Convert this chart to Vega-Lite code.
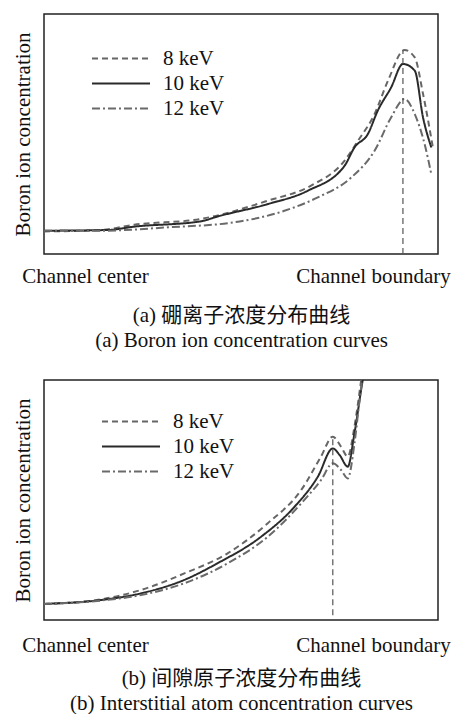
{
  "$schema": "https://vega.github.io/schema/vega-lite/v6.json",
  "padding": {"left": 11, "top": 13, "right": 0, "bottom": 0},
  "background": "white",
  "spacing": 28,
  "config": {
    "view": {"stroke": "#222", "strokeWidth": 1.5},
    "font": "Liberation Serif, Times New Roman, serif",
    "axis": {"grid": false, "ticks": false, "tickSize": 0, "domain": false, "labelFont": "Liberation Serif, Times New Roman, serif", "labelFontSize": 21, "labelColor": "#111", "titleFont": "Liberation Serif, Noto Sans CJK SC, serif", "titleFontSize": 21, "titleFontWeight": "normal", "titleColor": "#111"},
    "legend": {"symbolType": "stroke", "symbolSize": 3364, "symbolStrokeWidth": 2, "labelFont": "Liberation Serif, Times New Roman, serif", "labelFontSize": 21, "labelColor": "#111", "clipHeight": 25, "rowPadding": 0, "padding": 0, "labelOffset": 12}
  },
  "resolve": {"scale": {"color": "independent", "strokeDash": "independent"}, "legend": {"color": "independent", "strokeDash": "independent"}},
  "datasets": {
    "a": [
      {"series": "8 keV", "x": 0, "y": 9.4}, {"series": "8 keV", "x": 14.4, "y": 10}, {"series": "8 keV", "x": 22.9, "y": 12.2}, {"series": "8 keV", "x": 39.8, "y": 14.6}, {"series": "8 keV", "x": 56.8, "y": 22.2}, {"series": "8 keV", "x": 67.8, "y": 28.5}, {"series": "8 keV", "x": 76.3, "y": 38.9}, {"series": "8 keV", "x": 79.7, "y": 47.2}, {"series": "8 keV", "x": 83.9, "y": 58.3}, {"series": "8 keV", "x": 87.3, "y": 72.2}, {"series": "8 keV", "x": 91.5, "y": 85}, {"series": "8 keV", "x": 94.1, "y": 81.9}, {"series": "8 keV", "x": 96.2, "y": 66.7}, {"series": "8 keV", "x": 98.7, "y": 44.4},
      {"series": "10 keV", "x": 0, "y": 9.7}, {"series": "10 keV", "x": 16.1, "y": 10}, {"series": "10 keV", "x": 22.9, "y": 11.4}, {"series": "10 keV", "x": 39.8, "y": 13.6}, {"series": "10 keV", "x": 44, "y": 15.6}, {"series": "10 keV", "x": 56.8, "y": 20.8}, {"series": "10 keV", "x": 67, "y": 26.4}, {"series": "10 keV", "x": 76.3, "y": 36.8}, {"series": "10 keV", "x": 78.8, "y": 44.4}, {"series": "10 keV", "x": 82.2, "y": 50}, {"series": "10 keV", "x": 84.7, "y": 59.7}, {"series": "10 keV", "x": 88.1, "y": 69.4}, {"series": "10 keV", "x": 91.1, "y": 79.2}, {"series": "10 keV", "x": 94.1, "y": 76.4}, {"series": "10 keV", "x": 96.2, "y": 56.9}, {"series": "10 keV", "x": 98.3, "y": 44.4},
      {"series": "12 keV", "x": 0, "y": 9.7}, {"series": "12 keV", "x": 14.4, "y": 9.7}, {"series": "12 keV", "x": 31.4, "y": 11.1}, {"series": "12 keV", "x": 48.3, "y": 13.2}, {"series": "12 keV", "x": 61, "y": 18}, {"series": "12 keV", "x": 69.5, "y": 23.6}, {"series": "12 keV", "x": 78, "y": 31.9}, {"series": "12 keV", "x": 83.9, "y": 43}, {"series": "12 keV", "x": 88.1, "y": 56.9}, {"series": "12 keV", "x": 91.5, "y": 64.6}, {"series": "12 keV", "x": 94.1, "y": 58.3}, {"series": "12 keV", "x": 96.6, "y": 45.8}, {"series": "12 keV", "x": 98.3, "y": 33.3}
    ],
    "b": [
      {"series": "8 keV", "x": 0, "y": 6.7}, {"series": "8 keV", "x": 14.4, "y": 8.6}, {"series": "8 keV", "x": 24.6, "y": 12.5}, {"series": "8 keV", "x": 35.6, "y": 19.4}, {"series": "8 keV", "x": 46.6, "y": 27.8}, {"series": "8 keV", "x": 56.8, "y": 40.3}, {"series": "8 keV", "x": 65.3, "y": 54.2}, {"series": "8 keV", "x": 70.3, "y": 68.1}, {"series": "8 keV", "x": 73.3, "y": 76.4}, {"series": "8 keV", "x": 75.4, "y": 72.2}, {"series": "8 keV", "x": 77.1, "y": 68.1}, {"series": "8 keV", "x": 78.8, "y": 80.6}, {"series": "8 keV", "x": 80.5, "y": 100}, {"series": "8 keV", "x": 81.4, "y": 111},
      {"series": "10 keV", "x": 0, "y": 6.7}, {"series": "10 keV", "x": 14.4, "y": 8.3}, {"series": "10 keV", "x": 24.6, "y": 11.1}, {"series": "10 keV", "x": 35.6, "y": 16.7}, {"series": "10 keV", "x": 44, "y": 23.6}, {"series": "10 keV", "x": 55.1, "y": 34.7}, {"series": "10 keV", "x": 63.6, "y": 47.2}, {"series": "10 keV", "x": 69.5, "y": 59.7}, {"series": "10 keV", "x": 73.3, "y": 71.5}, {"series": "10 keV", "x": 75, "y": 68.8}, {"series": "10 keV", "x": 77.1, "y": 63.9}, {"series": "10 keV", "x": 78.8, "y": 77.8}, {"series": "10 keV", "x": 80.9, "y": 100}, {"series": "10 keV", "x": 82.2, "y": 111},
      {"series": "12 keV", "x": 0, "y": 6.7}, {"series": "12 keV", "x": 14.4, "y": 8.1}, {"series": "12 keV", "x": 24.6, "y": 10.4}, {"series": "12 keV", "x": 35.6, "y": 15.3}, {"series": "12 keV", "x": 46.6, "y": 23.6}, {"series": "12 keV", "x": 56.8, "y": 34.7}, {"series": "12 keV", "x": 65.3, "y": 48.6}, {"series": "12 keV", "x": 70.3, "y": 58.3}, {"series": "12 keV", "x": 73.3, "y": 65.3}, {"series": "12 keV", "x": 75.4, "y": 62.5}, {"series": "12 keV", "x": 77.1, "y": 59}, {"series": "12 keV", "x": 78.8, "y": 73.6}, {"series": "12 keV", "x": 80.1, "y": 91.7}, {"series": "12 keV", "x": 81.4, "y": 108}
    ],
    "ra": [{"x": 91.1, "y": 0, "y2": 85}],
    "rb": [{"x": 73.3, "y": 2, "y2": 76}]
  },
  "vconcat": [
    {
      "width": 394, "height": 240,
      "layer": [
        {
          "data": {"name": "a"},
          "mark": {"type": "line", "strokeWidth": 2, "clip": true, "interpolate": "monotone"},
          "encoding": {
            "x": {"field": "x", "type": "quantitative", "scale": {"domain": [0, 100], "nice": false, "zero": false},
              "axis": {"values": [10.4, 83.5], "labelExpr": "datum.value < 50 ? 'Channel center' : 'Channel boundary'", "labelPadding": 11, "labelAngle": 0, "labelOverlap": false, "labelFlush": false, "labelBound": false, "title": ["(a) 硼离子浓度分布曲线", "(a) Boron ion concentration curves"], "titlePadding": 18, "titleLineHeight": 25}},
            "y": {"field": "y", "type": "quantitative", "scale": {"domain": [0, 100], "nice": false}, "axis": {"labels": false, "title": "Boron ion concentration", "titlePadding": 11}},
            "color": {"field": "series", "type": "nominal", "scale": {"domain": ["8 keV", "10 keV", "12 keV"], "range": ["#666666", "#2a2a2a", "#6a6a6a"]}, "legend": {"title": null, "orient": "none", "legendX": 47, "legendY": 32}},
            "strokeDash": {"field": "series", "type": "nominal", "scale": {"domain": ["8 keV", "10 keV", "12 keV"], "range": [[6, 4], [1, 0], [8, 3, 2, 3]]}, "legend": {"title": null, "orient": "none", "legendX": 47, "legendY": 32}}
          }
        },
        {
          "data": {"name": "ra"},
          "mark": {"type": "rule", "strokeDash": [6, 4], "color": "#555", "strokeWidth": 1.2},
          "encoding": {
            "x": {"field": "x", "type": "quantitative"},
            "y": {"field": "y", "type": "quantitative"},
            "y2": {"field": "y2"}
          }
        }
      ]
    },
    {
      "width": 394, "height": 240,
      "layer": [
        {
          "data": {"name": "b"},
          "mark": {"type": "line", "strokeWidth": 2, "clip": true, "interpolate": "monotone"},
          "encoding": {
            "x": {"field": "x", "type": "quantitative", "scale": {"domain": [0, 100], "nice": false, "zero": false},
              "axis": {"values": [10.4, 83.5], "labelExpr": "datum.value < 50 ? 'Channel center' : 'Channel boundary'", "labelPadding": 14, "labelAngle": 0, "labelOverlap": false, "labelFlush": false, "labelBound": false, "title": ["(b) 间隙原子浓度分布曲线", "(b) Interstitial atom concentration curves"], "titlePadding": 12, "titleLineHeight": 25}},
            "y": {"field": "y", "type": "quantitative", "scale": {"domain": [0, 100], "nice": false}, "axis": {"labels": false, "title": "Boron ion concentration", "titlePadding": 11}},
            "color": {"field": "series", "type": "nominal", "scale": {"domain": ["8 keV", "10 keV", "12 keV"], "range": ["#666666", "#2a2a2a", "#6a6a6a"]}, "legend": {"title": null, "orient": "none", "legendX": 57, "legendY": 29}},
            "strokeDash": {"field": "series", "type": "nominal", "scale": {"domain": ["8 keV", "10 keV", "12 keV"], "range": [[6, 4], [1, 0], [8, 3, 2, 3]]}, "legend": {"title": null, "orient": "none", "legendX": 57, "legendY": 29}}
          }
        },
        {
          "data": {"name": "rb"},
          "mark": {"type": "rule", "strokeDash": [6, 4], "color": "#555", "strokeWidth": 1.2},
          "encoding": {
            "x": {"field": "x", "type": "quantitative"},
            "y": {"field": "y", "type": "quantitative"},
            "y2": {"field": "y2"}
          }
        }
      ]
    }
  ]
}
